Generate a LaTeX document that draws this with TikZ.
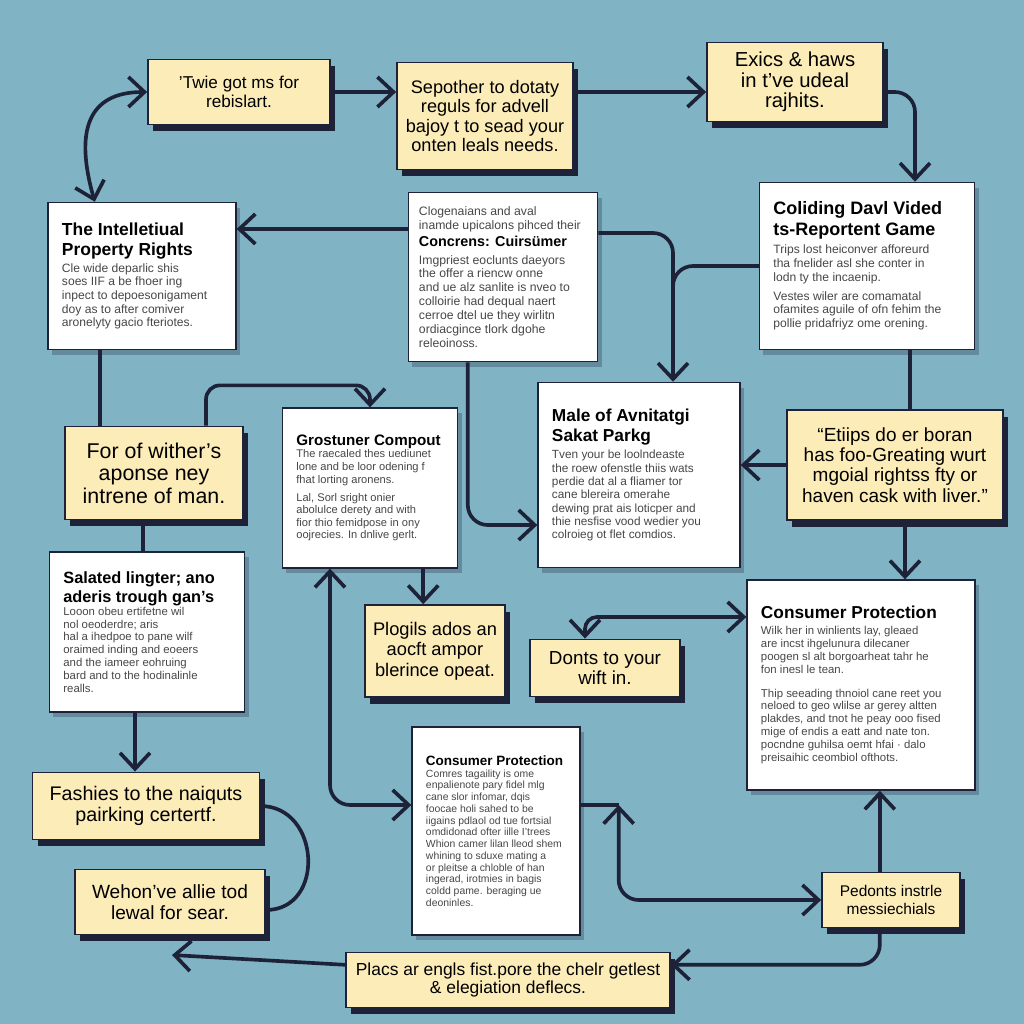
\documentclass[tikz,border=0pt]{standalone}
\usepackage{fontspec}
\setmainfont{Liberation Sans}
\usetikzlibrary{arrows.meta, positioning, shadows, calc}

\definecolor{bgc}{RGB}{128,180,196}
\definecolor{cream}{RGB}{252,236,184}
\definecolor{ink}{RGB}{30,34,56}
\newcommand{\ntitle}[1]{\fontsize{#1}{1.16\dimexpr#1pt\relax}\selectfont\bfseries\color{black}}
\newcommand{\nbody}[1]{\fontsize{#1}{1.13\dimexpr#1pt\relax}\selectfont\color{black!72}}

\begin{document}
\begin{tikzpicture}[x=0.025cm, y=-0.025cm,
    ybox/.style={draw=ink, line width=1.2pt, fill=cream, align=flush center, inner sep=2pt,
      font=\fontsize{12.6}{13.6}\selectfont,
      general shadow={fill=ink, shadow xshift=0.13cm, shadow yshift=-0.17cm}},
    note/.style={draw=ink, line width=0.9pt, fill=white, align=flush left,
      inner xsep=0.35cm, inner ysep=0.25cm,
      general shadow={fill=ink!55!bgc, opacity=0.5, shadow xshift=0.1cm, shadow yshift=-0.13cm}},
    wire/.style={draw=ink, line width=2.6pt, rounded corners=0.5cm},
    link/.style={wire, -{Straight Barb[length=0.4cm, width=0.75cm]}},
    link2/.style={wire, {Straight Barb[length=0.4cm, width=0.75cm]}-{Straight Barb[length=0.4cm, width=0.75cm]}}
]
    \fill[bgc] (0,0) rectangle (1024,1024);
    \useasboundingbox (0,0) rectangle (1024,1024);

    % obere Reihe
    \node[ybox, minimum width=4.55cm, minimum height=1.63cm, font=\fontsize{12.2}{13.2}\selectfont] (gotms) at (239,92)
        {'Twie got ms for\\rebislart.};
    \node[ybox, minimum width=4.4cm, minimum height=2.68cm, font=\fontsize{12.9}{13.6}\selectfont] (reguls) at (485,116)
        {Sepother to dotaty\\reguls for advell\\bajoy t to sead your\\onten leals needs.};
    \node[ybox, minimum width=4.4cm, minimum height=1.98cm, font=\fontsize{14.4}{14.6}\selectfont] (exics) at (795,82)
        {Exics \& haws\\in t'{}ve udeal\\rajhits.};

    % Notizen
    \node[note, text width=4.0cm, minimum height=3.68cm] (iprights) at (142,276)
        {{\ntitle{12.4}The Intelletiual\\Property Rights\par}\vspace{2pt}
         {\nbody{8.6}Cle wide deparlic shis\\soes IIF a be fhoer ing\\inpect to depoesonigament\\doy as to after comiver\\aronelyty gacio fteriotes.\par}};
    \node[note, text width=4.2cm, inner xsep=0.27cm, minimum height=4.23cm] (concerns) at (503,277)
        {{\nbody{8.7}Clogenaians and aval\\inamde upicalons pihced their\par}
         {\ntitle{10.2}Concrens: Cuirsümer\par}\vspace{3pt}
         {\nbody{8.7}Imgpriest eoclunts daeyors\\the offer a riencw onne\\and ue alz sanlite is nveo to\\colloirie had dequal naert\\cerroe dtel ue they wirlitn\\ordiacgince tlork dgohe\\releoinoss.\par}};
    \node[note, text width=4.68cm, minimum height=4.18cm] (game) at (867,266)
        {{\ntitle{12.8}Coliding Davl Vided\\ts-Reportent Game\par}\vspace{3pt}
         {\nbody{8.6}Trips lost heiconver afforeurd\\tha fnelider asl she conter in\\lodn ty the incaenip.\par}\vspace{4pt}
         {\nbody{8.6}Vestes wiler are comamatal\\ofamites aguile of ofn fehim the\\pollie pridafriyz ome orening.\par}};

    % mittlere Reihe
    \node[ybox, minimum width=4.45cm, minimum height=2.33cm, font=\fontsize{15.2}{16}\selectfont] (wither) at (154,473)
        {For of wither’s\\aponse ney\\intrene of man.};
    \node[note, text width=3.68cm, minimum height=4.0cm] (compout) at (370,488)
        {{\ntitle{10.8}Grostuner Compout\par}
         {\nbody{7.9}The raecaled thes uediunet\\lone and be loor odening f\\fhat lorting aronens.\par}\vspace{4pt}
         {\nbody{7.9}Lal, Sorl sright onier\\abolulce derety and with\\fior thio femidpose in ony\\oojrecies. In dnlive gerlt.\par}};
    \node[note, text width=4.35cm, minimum height=4.63cm] (parkg) at (639,475)
        {{\ntitle{12.3}Male of Avnitatgi\\Sakat Parkg\par}\vspace{3pt}
         {\nbody{8.4}Tven your be loolndeaste\\the roew ofenstle thiis wats\\perdie dat al a fliamer tor\\cane blereira omerahe\\dewing prat ais loticper and\\thie nesfise vood wedier you\\colroieg ot flet comdios.\par}};
    \node[ybox, minimum width=5.4cm, minimum height=2.75cm, font=\fontsize{13.5}{14.4}\selectfont] (quote) at (895,465)
        {“Etiips do er boran\\has foo-Greating wurt\\mgoial rightss fty or\\haven cask with liver.”};

    \node[note, text width=4.18cm, minimum height=4.0cm] (salated) at (147,632)
        {{\ntitle{11.6}Salated lingter; ano\\aderis trough gan's\par}
         {\nbody{8.1}Looon obeu ertifetne wil\\nol oeoderdre; aris\\hal a ihedpoe to pane wilf\\oraimed inding and eoeers\\and the iameer eohruing\\bard and to the hodinalinle\\realls.\par}};
    \node[ybox, minimum width=3.5cm, minimum height=2.3cm, font=\fontsize{13}{14.6}\selectfont] (plogils) at (435,651)
        {Plogils ados an\\aocft ampor\\blerince opeat.};
    \node[ybox, minimum width=3.75cm, minimum height=1.43cm, font=\fontsize{13.4}{14.6}\selectfont] (donts) at (605,668)
        {Donts to your\\wift in.};
    \node[note, text width=5.0cm, minimum height=5.25cm] (protR) at (861,685)
        {{\ntitle{12.3}Consumer Protection\par}\vspace{2pt}
         {\nbody{8.1}Wilk her in winlients lay, gleaed\\are incst ihgelunura dilecaner\\poogen sl alt borgoarheat tahr he\\fon inesl le tean.\par}\vspace{8pt}
         {\nbody{8.1}Thip seeading thnoiol cane reet you\\neloed to geo wlilse ar gerey altten\\plakdes, and tnot he peay ooo fised\\mige of endis a eatt and nate ton.\\pocndne guhilsa oemt hfai · dalo\\preisaihic ceombiol ofthots.\par}};

    % untere Reihe
    \node[note, text width=3.5cm, minimum height=5.2cm] (protM) at (496,831)
        {{\ntitle{9.6}Consumer Protection\par}
         {\nbody{7.4}Comres tagaility is ome\\enpalienote pary fidel mlg\\cane slor infomar, dqis\\foocae holi sahed to be\\iigains pdlaol od tue fortsial\\omdidonad ofter iille I'trees\\Whion camer lilan lleod shem\\whining to sduxe mating a\\or pleitse a chloble of han\\ingerad, irotmies in bagis\\coldd pame. beraging ue\\deoninles.\par}};
    \node[ybox, minimum width=5.68cm, minimum height=1.68cm, font=\fontsize{14}{15}\selectfont] (fashies) at (146,806)
        {Fashies to the naiquts\\pairking certertf.};
    \node[ybox, minimum width=4.75cm, minimum height=1.63cm, font=\fontsize{13.6}{14.8}\selectfont] (wehon) at (170,902)
        {Wehon've allie tod\\lewal for sear.};
    \node[ybox, minimum width=3.45cm, minimum height=1.38cm, font=\fontsize{11}{13}\selectfont] (pedonts) at (891,900)
        {Pedonts instrle\\messiechials};
    \node[ybox, minimum width=8.1cm, minimum height=1.38cm, font=\fontsize{12.4}{13.4}\selectfont] (placs) at (508,980)
        {Placs ar engls fist.pore the chelr getlest\\\& elegiation deflecs.};

    % Verbindungen
    \draw[link2] ([xshift=-1.18cm]iprights.north) .. controls +(-20,-70) and +(-60,0) .. (gotms.west);
    \draw[link] (gotms.east) -- (gotms.east -| reguls.west);
    \draw[link] ([yshift=0.6cm]reguls.east) -- ([yshift=0.6cm]reguls.east -| exics.west);
    \draw[link] ([yshift=-0.25cm]exics.east) -| ([xshift=1.2cm]game.north);

    \draw[link] ([yshift=1.2cm]concerns.west) -- ([yshift=1.2cm]concerns.west -| iprights.east);
    \draw[link] ([yshift=1.1cm]concerns.east) -| ([xshift=0.85cm]parkg.north);
    \draw[wire] (game.west) -| ([xshift=0.85cm, yshift=1.8cm]parkg.north);
    \draw[wire] ([xshift=-1.05cm]iprights.south) -- ([xshift=-1.05cm]iprights.south |- wither.north);
    \draw[link, rounded corners=0.35cm] ([xshift=1.3cm]wither.north) |- ([yshift=0.55cm]compout.north) -- (compout.north);
    \draw[link] ([xshift=-0.88cm]concerns.south) |- ([yshift=-1.25cm]parkg.west);
    \draw[link] (quote.west) -- (quote.west -| parkg.east);
    \draw[wire] ([xshift=1.08cm]game.south) -- ([xshift=1.08cm]game.south |- quote.north);
    \draw[link] ([xshift=0.25cm]quote.south) -- ([xshift=0.25cm]quote.south |- protR.north);

    \draw[wire] ([xshift=-0.28cm]wither.south) -- ([xshift=-0.28cm]wither.south |- salated.north);
    \draw[link] ([xshift=-0.3cm]salated.south) -- ([xshift=-0.3cm]salated.south |- fashies.north);
    \draw[link] ([xshift=1.33cm]compout.south) -- ([xshift=1.33cm]compout.south |- plogils.north);
    \draw[link2] ([xshift=-1cm]compout.south) |- ([yshift=0.65cm]protM.west);
    \draw[link2, rounded corners=0.3cm] ([xshift=-0.5cm]donts.north) |- ([yshift=1.7cm]protR.west);

    \draw[wire] ([yshift=0.65cm]protM.east) -- ++(0.95cm,0) coordinate (fork);
    \draw[link2] (fork) |- (pedonts.west);
    \draw[link] ([xshift=-0.28cm]pedonts.north) -- ([xshift=-0.28cm]pedonts.north |- protR.south);
    \draw[link] ([xshift=-0.28cm]pedonts.south) |- ([yshift=0.38cm]placs.east);
    \coordinate (tail) at (172,955);
    \draw[link] ([yshift=0.38cm]placs.west) -- (tail);
    \draw[wire] (fashies.east) .. controls +(60,0) and +(60,0) .. ([yshift=-0.2cm]wehon.east);
\end{tikzpicture}
\end{document}
